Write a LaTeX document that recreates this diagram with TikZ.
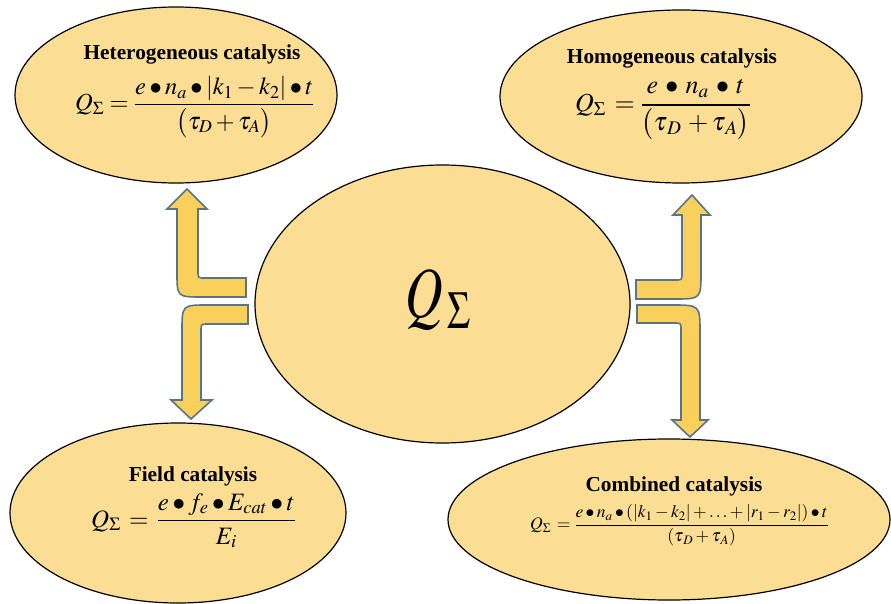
\documentclass[tikz,border=0pt]{standalone}
\usepackage{mathptmx}
\usepackage[no-math]{fontspec}
\setmainfont{Liberation Serif}
\usepackage{graphicx}
\usetikzlibrary{shapes.geometric}
\definecolor{ellfill}{RGB}{251,222,148}
\definecolor{arrfill}{RGB}{249,208,92}
\definecolor{arrline}{RGB}{88,116,136}
\tikzset{
  ell/.style={ellipse, draw=black, line width=1.2pt, fill=ellfill, inner sep=0pt},
  ttl/.style={font=\fontsize{21.3}{24}\selectfont\bfseries, anchor=base, inner sep=0pt},
  frm/.style={anchor=base west, inner sep=0pt},
  barrow/.style={fill=arrfill, draw=arrline, line width=1.6pt, line join=miter},
}
\begin{document}
\begin{tikzpicture}[x=1pt,y=-1pt]
\useasboundingbox (0,0) rectangle (891,604);
% ellipses
\node[ell, minimum width=322pt, minimum height=176pt] (het) at (176,95) {};
\node[ell, minimum width=362pt, minimum height=173pt] (hom) at (681,96.5) {};
\node[ell, minimum width=375pt, minimum height=278pt] (cen) at (442.5,304) {};
\node[ell, minimum width=336pt, minimum height=180pt] (fld) at (178,513) {};
\node[ell, minimum width=442pt, minimum height=161pt] (cmb) at (669,519.5) {};
% titles
\node[ttl] (hett) at (192,60) {Heterogeneous catalysis};
\node[ttl] (homt) at (672,64) {Homogeneous catalysis};
\node[ttl] (fldt) at (193,481) {Field catalysis};
\node[ttl] (cmbt) at (674,491) {Combined catalysis};
% formulas
\node[frm, font=\fontsize{24.5}{28}\selectfont] (hetf) at (75,111)
  {$\displaystyle Q_\Sigma=\frac{e\bullet n_a\bullet\left|k_1-k_2\right|\bullet t}{\bigl(\tau_D+\tau_A\bigr)}$};
\node[frm, font=\fontsize{26}{30}\selectfont] (homf) at (575,111.5)
  {$\displaystyle Q_\Sigma\,=\frac{e\:\bullet\:n_a\:\bullet\:t}{\bigl(\tau_{\,D}\,+\tau_{\,A}\bigr)}$};
\node[frm, font=\fontsize{25}{29}\selectfont] (fldf) at (91,527)
  {$\displaystyle Q_\Sigma\,=\,\frac{e\bullet f_e\bullet E_{cat}\bullet t}{E_i}$};
\node[frm, font=\fontsize{17.5}{21}\selectfont] (cmbf) at (530,529.4)
  {$\displaystyle Q_\Sigma\,=\frac{e\bullet n_a\bullet\left(\left|k_1-k_2\right|+\ldots+\left|r_1-r_2\right|\right)\bullet t}{\left(\tau_{\,D}+\tau_{\,A}\right)}$};
% centre
\node[inner sep=0pt] (qs) at (438,300) {\scalebox{1}[1.38]{\fontsize{52}{56}\selectfont$Q_{\,\Sigma}$}};
% block arrows
\draw[barrow] (246,278) -- (205,278) .. controls (198,278) .. (198,271) -- (198,209) -- (207,209) -- (187,189) -- (167,209) -- (177,209) -- (177,272) .. controls (177,297) .. (202,297) -- (246,297) -- cycle;
\draw[barrow] (248,305) -- (208,305) .. controls (182,305) .. (182,331) -- (182,400) -- (171,400) -- (191,419) -- (212,400) -- (201,400) -- (201,331) .. controls (201,324) .. (208,324) -- (248,324) -- cycle;
\draw[barrow] (636,280) -- (675,280) .. controls (682,280) .. (682,273) -- (682,215) -- (673,215) -- (692,195) -- (710,215) -- (701,215) -- (701,272) .. controls (701,299) .. (674,299) -- (636,299) -- cycle;
\draw[barrow] (637,305) -- (672,305) .. controls (700,305) .. (700,333) -- (700,420) -- (708,420) -- (690,437) -- (672,420) -- (681,420) -- (681,330) .. controls (681,323) .. (674,323) -- (637,323) -- cycle;
\end{tikzpicture}
\end{document}
